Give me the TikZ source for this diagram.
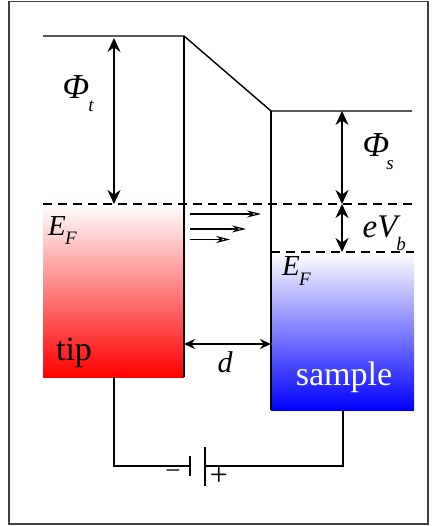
\documentclass[tikz,border=0pt]{standalone}
\usepackage{fontspec}
\setmainfont{Liberation Serif}
\usetikzlibrary{arrows.meta}
\tikzset{
	level/.style={line width=1.4pt},
	fermi/.style={line width=1.3pt, dash pattern=on 8.5pt off 6.5pt},
	gap/.style={line width=1.4pt, {Stealth[length=14pt,width=13pt]}-{Stealth[length=14pt,width=13pt]}},
	current/.style={line width=1.1pt, -{Stealth[length=14pt,width=7pt,open,fill=white]}},
	wire/.style={line width=1.4pt},
	label/.style={inner sep=0pt, font=\fontsize{34}{34}\selectfont},
	sub/.style={inner sep=0pt, font=\itshape\fontsize{19}{19}\selectfont},
}

\begin{document}
\begin{tikzpicture}[x=1pt, y=-1pt]
		\useasboundingbox (0,0) rectangle (437,526);
		\draw[line width=1.6pt, color=black!75] (9,1.5) rectangle (428,524);

		% electrodes
		\shade[top color=white, bottom color=red] (43,204) rectangle (184,377);
		\shade[top color=white, bottom color=blue] (271,252) rectangle (414,410);

		\coordinate (tl) at (43,36);
		\coordinate (tr) at (184,36);
		\coordinate (tb) at (184,377);
		\coordinate (sl) at (271,111);
		\coordinate (sr) at (412,111);
		\coordinate (sb) at (271,410);
		\draw[level] (tl) -- (tr) -- (sl) -- (sr);
		\draw[level] (tr) -- (tb);
		\draw[level] (sl) -- (sb);

		% fermi levels
		\coordinate (f1) at (43,204);
		\coordinate (f2) at (414,204);
		\coordinate (f3) at (271,252);
		\coordinate (f4) at (414,252);
		\draw[fermi] (f1) -- (f2);
		\draw[fermi] (f3) -- (f4);

		% barrier heights
		\coordinate (pt1) at (114,38);
		\coordinate (pt2) at (114,204);
		\coordinate (ps1) at (342,111);
		\coordinate (ps2) at (342,204);
		\coordinate (ps3) at (342,252);
		\draw[gap] (pt1) -- (pt2);
		\draw[gap] (ps1) -- (ps2);
		\draw[gap] (ps2) -- (ps3);

		% tunnel current
		\coordinate (c1) at (190,214);
		\coordinate (c2) at (261,214);
		\coordinate (c3) at (190,229);
		\coordinate (c4) at (246,229);
		\coordinate (c5) at (190,239.5);
		\coordinate (c6) at (230,239.5);
		\draw[current] (c1) -- (c2);
		\draw[current] (c3) -- (c4);
		\draw[current] (c5) -- (c6);

		% gap width
		\coordinate (d1) at (184,344);
		\coordinate (d2) at (271,344);
		\draw[gap, {Stealth[length=11pt,width=10pt]}-{Stealth[length=11pt,width=10pt]}] (d1) -- (d2);

		% battery
		\coordinate (w1) at (114,377);
		\coordinate (w2) at (114,466);
		\coordinate (w3) at (190,466);
		\coordinate (w4) at (205,466);
		\coordinate (w5) at (343,466);
		\coordinate (w6) at (343,410);
		\coordinate (b1) at (190,456);
		\coordinate (b2) at (190,476);
		\coordinate (b3) at (205,447);
		\coordinate (b4) at (205,486);
		\draw[wire] (w1) -- (w2) -- (w3);
		\draw[wire] (w4) -- (w5) -- (w6);
		\draw[wire] (b1) -- (b2);
		\draw[wire] (b3) -- (b4);

		% labels
		\node[label, font=\itshape\fontsize{35}{35}\selectfont] (phit) at (76,87) {Φ};
		\node[sub] (phitsub) at (91,106) {t};
		\node[label, font=\itshape\fontsize{35}{35}\selectfont] (phis) at (376,145) {Φ};
		\node[sub] (phissub) at (390,165) {s};
		\node[label, font=\itshape\fontsize{33}{33}\selectfont] (evb) at (380,227) {eV};
		\node[sub] (evbsub) at (401,244) {b};
		\node[label, font=\itshape\fontsize{29}{29}\selectfont] (ef1) at (57,226) {E};
		\node[sub] (ef1sub) at (71,238) {F};
		\node[label, font=\itshape\fontsize{29}{29}\selectfont] (ef2) at (291,266) {E};
		\node[sub] (ef2sub) at (305,279) {F};
		\node[label] (tip) at (74,353) {tip};
		\node[label, text=white] (sample) at (344,377) {sample};
		\node[label, font=\itshape\fontsize{30}{30}\selectfont] (dlabel) at (225,362) {d};
		\node[inner sep=0pt, font=\fontsize{27}{27}\selectfont] (minus) at (173,475) {−};
		\node[inner sep=0pt, font=\fontsize{32}{32}\selectfont] (plus) at (219,476) {+};
	\end{tikzpicture}
\end{document}
